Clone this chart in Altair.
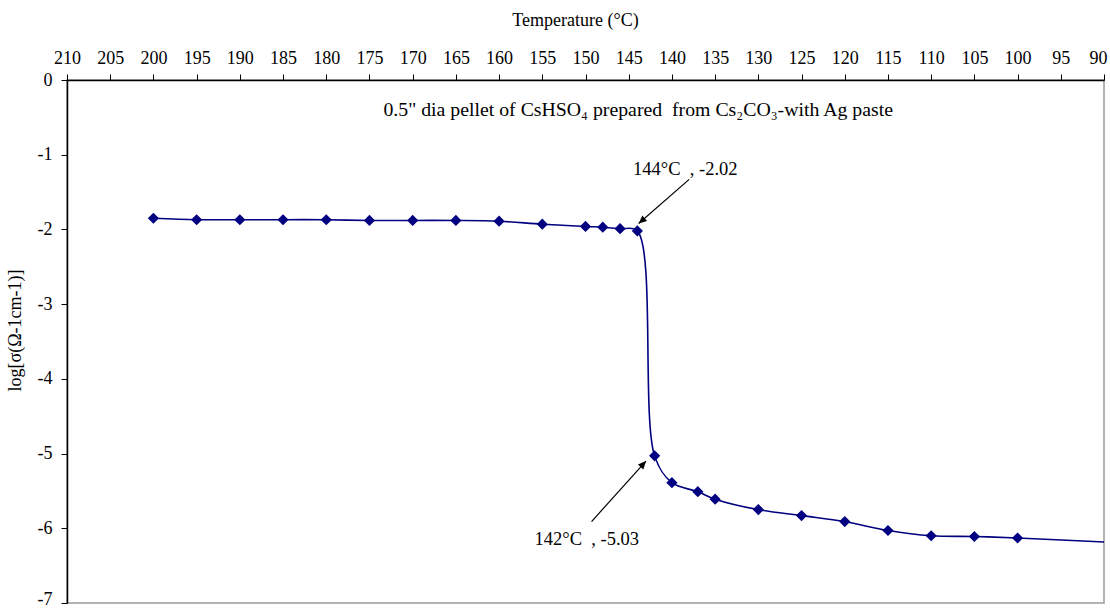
import math

import altair as alt
import pandas as pd

# Conductivity of a CsHSO4 pellet measured on cooling
temps = [200, 195, 190, 185, 180, 175, 170, 165, 160, 155, 150, 148, 146, 144,
         142, 140, 137, 135, 130, 125, 120, 115, 110, 105, 100, 85]
log_sigma = [-1.85, -1.87, -1.87, -1.87, -1.87, -1.88, -1.88, -1.88, -1.89, -1.93,
             -1.96, -1.97, -1.99, -2.02,
             -5.03, -5.39, -5.51, -5.61, -5.75, -5.83, -5.91, -6.03, -6.10, -6.11,
             -6.13, -6.21]

x_ticks = list(range(90, 211, 5))
y_ticks = list(range(-7, 1))

# annotation texts and their anchor points (data units)
note_text = ['0.5" dia pellet of CsHSO\u2084 prepared\u00a0 from Cs\u2082CO\u2083-with Ag paste']
note_pos = [(143.9, -0.48)]
callout_text = ["144°C\u00a0 , -2.02", "142°C\u00a0 , -5.03"]
callout_pos = [(144.5, -1.27), (155.9, -6.22)]
arrow_tail = [(138.0, -1.33), (149.3, -5.91)]
arrow_tip = [(143.85, -1.92), (143.0, -5.10)]

W, H = 1037, 523
X_DOM = (90, 210)
Y_DOM = (-7, 0)
FONT = "Liberation Serif"
NAVY = "#000080"

px_per_x = W / (X_DOM[1] - X_DOM[0])
px_per_y = H / (Y_DOM[1] - Y_DOM[0])

pts = pd.DataFrame({"temp": temps, "logsig": log_sigma})

x_scale = alt.Scale(domain=list(X_DOM), reverse=True, nice=False, zero=False)
y_scale = alt.Scale(domain=list(Y_DOM), nice=False, zero=False)

x_axis = alt.Axis(
    orient="top", values=x_ticks, format="d", title="Temperature (°C)",
    tickSize=6, labelPadding=11, labelBaseline="alphabetic",
    labelFont=FONT, titleFont=FONT,
    labelAlign={"condition": {"test": "datum.value === 90", "value": "right"},
                "value": "center"},
    labelOffset={"condition": {"test": "datum.value === 90", "value": 3},
                 "value": 0},
    titleX=508, titleY=-55, titleBaseline="alphabetic",
)
y_axis = alt.Axis(
    orient="left", values=y_ticks, title="log[σ(Ω-1cm-1)]",
    labelExpr="datum.value == 0 ? '0' : '-' + format(abs(datum.value), 'd')",
    tickSize=6, labelPadding=9,
    labelFont=FONT, titleFont=FONT,
    labelOffset={"condition": {"test": "datum.value === -7", "value": -4},
                 "value": 0},
    titleX=-52, titleY=250, titleBaseline="middle",
)


def xq(field):
    return alt.X(f"{field}:Q", scale=x_scale, axis=x_axis)


def yq(field):
    return alt.Y(f"{field}:Q", scale=y_scale, axis=y_axis)


line = alt.Chart(pts).mark_line(
    color=NAVY, strokeWidth=1.6, interpolate="catmull-rom", clip=True
).encode(x=xq("temp"), y=yq("logsig"), order="temp:Q")

markers = alt.Chart(pts).mark_point(
    shape="diamond", filled=True, color=NAVY, opacity=1, size=125, clip=True
).encode(x=xq("temp"), y=yq("logsig"))

note = alt.Chart(pd.DataFrame({
    "temp": [p[0] for p in note_pos],
    "logsig": [p[1] for p in note_pos],
    "label": note_text,
})).mark_text(
    font=FONT, fontSize=19.8, color="black", align="center", baseline="alphabetic"
).encode(x=xq("temp"), y=yq("logsig"), text="label:N")

callouts = alt.Chart(pd.DataFrame({
    "temp": [p[0] for p in callout_pos],
    "logsig": [p[1] for p in callout_pos],
    "label": callout_text,
})).mark_text(
    font=FONT, fontSize=18.5, color="black", align="left", baseline="alphabetic"
).encode(x=xq("temp"), y=yq("logsig"), text="label:N")

# arrow shafts and heads
head_len = 8.0
rows = []
for (t0, v0), (t1, v1) in zip(arrow_tail, arrow_tip):
    dx = -(t1 - t0) * px_per_x
    dy = -(v1 - v0) * px_per_y
    length = math.hypot(dx, dy)
    ux, uy = dx / length, dy / length
    angle = math.degrees(math.atan2(ux, -uy)) % 360
    cx = t1 + (ux * head_len / 2) / px_per_x
    cy = v1 + (uy * head_len / 2) / px_per_y
    rows.append({"temp": t0, "logsig": v0, "temp2": t1, "logsig2": v1,
                 "hx": cx, "hy": cy, "angle": angle})
arrows = pd.DataFrame(rows)

shafts = alt.Chart(arrows).mark_rule(color="black", strokeWidth=1.2).encode(
    x=xq("temp"), y=yq("logsig"), x2="temp2:Q", y2="logsig2:Q"
)
heads = alt.Chart(arrows).mark_point(
    shape="M0,-1L0.9,1L-0.9,1Z", filled=True, color="black", opacity=1,
    size=head_len ** 2
).encode(
    x=xq("hx"), y=yq("hy"),
    angle=alt.Angle("angle:Q", scale=None),
)

chart = alt.layer(line, markers, note, callouts, shafts, heads).properties(
    width=W, height=H,
    autosize=alt.AutoSizeParams(type="none"),
    padding={"left": 67, "top": 80, "right": 6, "bottom": 7},
    background="white",
).configure(
    font=FONT
).configure_view(
    stroke="#9a9a9a", strokeWidth=1.5
).configure_axis(
    grid=False,
    labelFont=FONT, labelFontSize=18, labelColor="black",
    titleFont=FONT, titleFontSize=18, titleFontWeight="normal", titleColor="black",
    domainColor="black", domainWidth=1.5, tickColor="black", tickWidth=1,
    labelOverlap=False, labelFlush=False,
)

chart.save("out.html", embed_options={"renderer": "svg", "actions": False})
